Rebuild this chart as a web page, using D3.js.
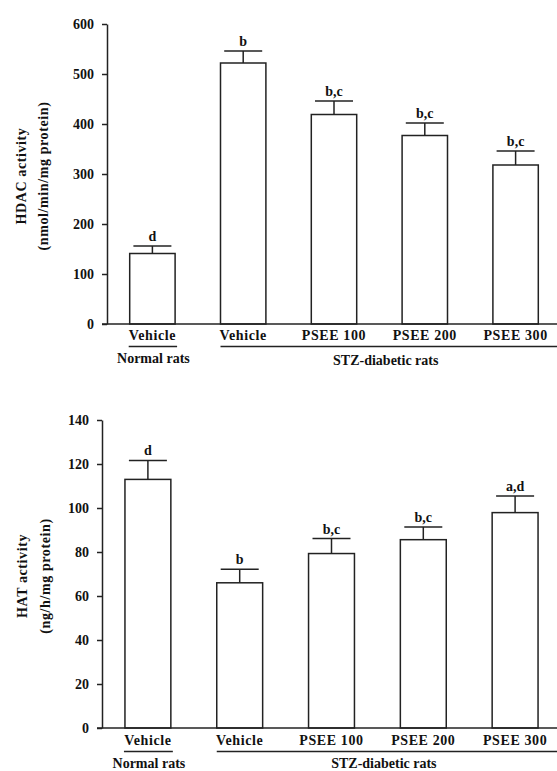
<!DOCTYPE html>
<html><head><meta charset="utf-8">
<script src="https://cdn.jsdelivr.net/npm/d3@7"></script>
<style>
body{margin:0;background:#fff;}
text{font-family:"Liberation Serif","Times New Roman",serif;font-weight:bold;fill:#111;}
</style></head>
<body>
<svg id="c" width="557" height="771"></svg>
<script>
const categories = ["Vehicle","Vehicle","PSEE 100","PSEE 200","PSEE 300"];
const groups = ["Normal rats","STZ-diabetic rats"];
const hdacValues = [141, 522, 419, 377, 318];
const hdacErrors = [15, 24, 27, 25, 28];
const hdacLetters = ["d","b","b,c","b,c","b,c"];
const hdacTicks = [0,100,200,300,400,500,600];
const hatValues = [113, 66, 79.3, 85.6, 97.9];
const hatErrors = [8.6, 6.2, 6.8, 5.8, 7.6];
const hatLetters = ["d","b","b,c","b,c","a,d"];
const hatTicks = [0,20,40,60,80,100,120,140];

const svg = d3.select("#c");
const W = 557;
const stroke = "#222";

function panel(cfg){
  const g = svg.append("g");
  const idx = d3.range(categories.length);
  const x = d3.scaleBand().domain(idx).range([cfg.x0, cfg.x1]).paddingInner(0.5).paddingOuter(0.25);
  const y = d3.scaleLinear().domain([0, cfg.max]).range([cfg.y0, cfg.y1]);
  const bw = x.bandwidth();

  // y axis
  const ya = d3.axisLeft(y).tickValues(cfg.ticks).tickSize(5).tickSizeOuter(0).tickPadding(8);
  const yg = g.append("g").attr("transform", `translate(${cfg.x0},0)`).call(ya);
  yg.select(".domain").attr("stroke", stroke).attr("stroke-width", 1.5);
  yg.selectAll(".tick line").attr("stroke", stroke).attr("stroke-width", 1.5);
  yg.selectAll(".tick text").style("font-size","14px").style("font-family","Liberation Serif").style("font-weight","bold").attr("fill","#111");

  // bars
  g.selectAll("rect.bar").data(idx).enter().append("rect")
    .attr("x", i => x(i)).attr("width", bw)
    .attr("y", i => y(cfg.values[i])).attr("height", i => y(0) - y(cfg.values[i]))
    .attr("fill", "#fff").attr("stroke", stroke).attr("stroke-width", 1.5);

  // error bars
  const capW = 38;
  idx.forEach(i => {
    const cx = x(i) + bw/2;
    const top = y(cfg.values[i] + cfg.errors[i]);
    g.append("line").attr("x1",cx).attr("x2",cx).attr("y1",y(cfg.values[i])).attr("y2",top)
      .attr("stroke",stroke).attr("stroke-width",1.5);
    g.append("line").attr("x1",cx-capW/2).attr("x2",cx+capW/2).attr("y1",top).attr("y2",top)
      .attr("stroke",stroke).attr("stroke-width",1.5);
    g.append("text").attr("x",cx).attr("y",top-5).attr("text-anchor","middle")
      .style("font-size","14px").text(cfg.letters[i]);
  });

  // x axis line
  g.append("line").attr("x1", cfg.x0-5).attr("x2", W).attr("y1", y(0)).attr("y2", y(0))
    .attr("stroke", stroke).attr("stroke-width", 1.5);

  // category labels
  idx.forEach(i => {
    g.append("text").attr("x", x(i)+bw/2).attr("y", y(0)+cfg.labDy).attr("text-anchor","middle")
      .style("font-size","14px").style("letter-spacing","0.6px").text(categories[i]);
  });

  // group lines
  const gy = y(0) + cfg.lineDy;
  g.append("line").attr("x1", x(0)-1).attr("x2", x(0)+bw+2).attr("y1", gy).attr("y2", gy)
    .attr("stroke", stroke).attr("stroke-width", 1.5);
  g.append("line").attr("x1", x(1)).attr("x2", W).attr("y1", gy).attr("y2", gy)
    .attr("stroke", stroke).attr("stroke-width", 1.5);
  g.append("text").attr("x", x(0)+bw/2+1).attr("y", gy+cfg.grpDy1).attr("text-anchor","middle")
    .style("font-size","14px").text(groups[0]);
  g.append("text").attr("x", (x(1)+W)/2 - 3).attr("y", gy+cfg.grpDy2).attr("text-anchor","middle")
    .style("font-size","14px").text(groups[1]);

  // y title
  const cy = (cfg.y0+cfg.y1)/2 + 2;
  [[cfg.t1x, cfg.title1],[cfg.t2x, cfg.title2]].forEach(([tx, t]) => {
    g.append("text").attr("transform", `translate(${tx},${cy}) rotate(-90)`)
      .attr("text-anchor","middle").attr("dominant-baseline","central")
      .style("font-size","14px").style("letter-spacing","0.6px").text(t);
  });
}

panel({x0:107, x1:561, y0:324, y1:24, max:600, ticks:hdacTicks, values:hdacValues, errors:hdacErrors,
  letters:hdacLetters, labDy:16, lineDy:22.5, grpDy1:16, grpDy2:18,
  t1x:21, t2x:43, title1:"HDAC activity", title2:"(nmol/min/mg protein)"});

panel({x0:102, x1:561, y0:728, y1:420, max:140, ticks:hatTicks, values:hatValues, errors:hatErrors,
  letters:hatLetters, labDy:17, lineDy:23.5, grpDy1:16.5, grpDy2:16,
  t1x:22, t2x:45, title1:"HAT activity", title2:"(ng/h/mg protein)"});
</script>
</body></html>
